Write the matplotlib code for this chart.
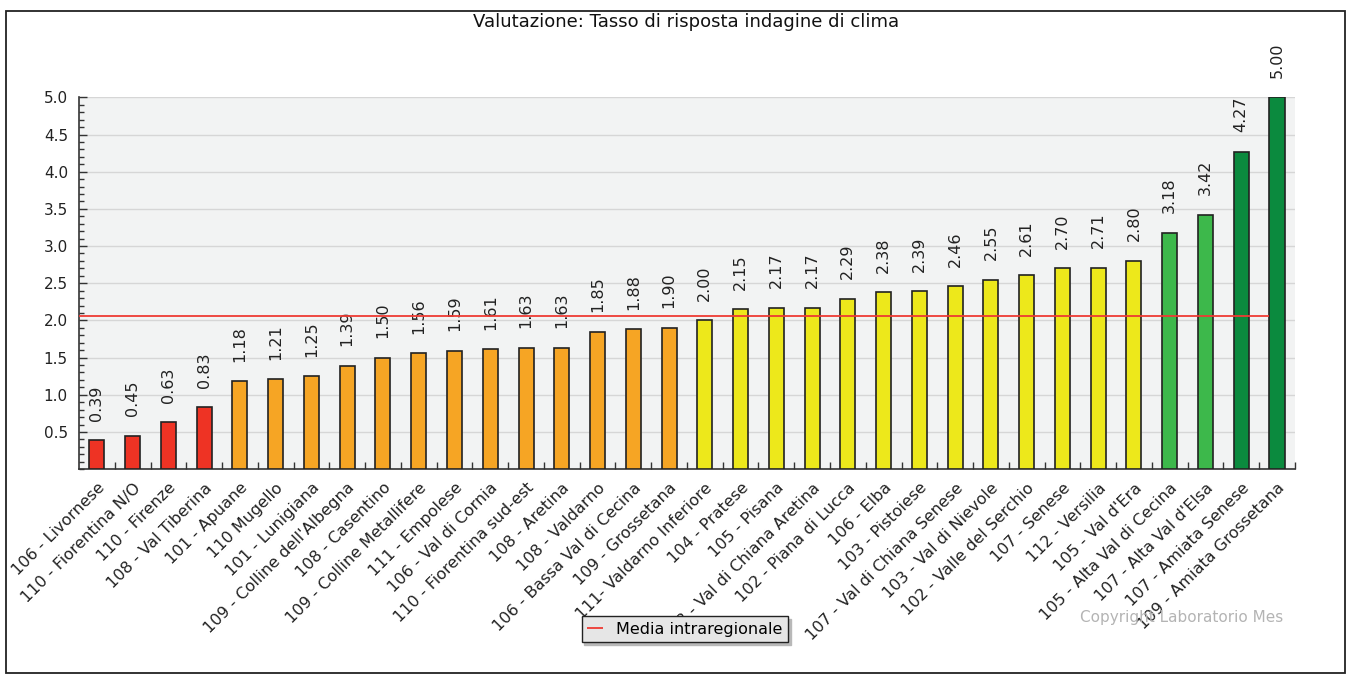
import numpy as np
import matplotlib
matplotlib.use("Agg")
import matplotlib.pyplot as plt
from matplotlib.patches import Rectangle
from matplotlib.ticker import MultipleLocator, FixedLocator

# Dati: tasso di risposta indagine di clima per zona
zone = [
    "106 - Livornese", "110 - Fiorentina N/O", "110 - Firenze", "108 - Val Tiberina",
    "101 - Apuane", "110 Mugello", "101 - Lunigiana", "109 - Colline dell'Albegna",
    "108 - Casentino", "109 - Colline Metallifere", "111 - Empolese", "106 - Val di Cornia",
    "110 - Fiorentina sud-est", "108 - Aretina", "108 - Valdarno", "106 - Bassa Val di Cecina",
    "109 - Grossetana", "111- Valdarno Inferiore", "104 - Pratese", "105 - Pisana",
    "108 - Val di Chiana Aretina", "102 - Piana di Lucca", "106 - Elba", "103 - Pistoiese",
    "107 - Val di Chiana Senese", "103 - Val di Nievole", "102 - Valle del Serchio",
    "107 - Senese", "112 - Versilia", "105 - Val d'Era", "105 - Alta Val di Cecina",
    "107 - Alta Val d'Elsa", "107 - Amiata Senese", "109 - Amiata Grossetana",
]
valori = [
    0.39, 0.45, 0.63, 0.83, 1.18, 1.21, 1.25, 1.39, 1.50, 1.56, 1.59, 1.61,
    1.63, 1.63, 1.85, 1.88, 1.90, 2.00, 2.15, 2.17, 2.17, 2.29, 2.38, 2.39,
    2.46, 2.55, 2.61, 2.70, 2.71, 2.80, 3.18, 3.42, 4.27, 5.00,
]
fasce = (["rosso"] * 4 + ["arancio"] * 13 + ["giallo"] * 13
         + ["verde chiaro"] * 2 + ["verde scuro"] * 2)
media = 2.06

colori_fasce = {
    "rosso": "#ee3324",
    "arancio": "#f6a524",
    "giallo": "#ede81b",
    "verde chiaro": "#3db84b",
    "verde scuro": "#0b8a3e",
}

plt.rcParams['font.family'] = ['DejaVu Sans']

fig = plt.figure(figsize=(13.48, 6.76), dpi=100)
ax = fig.add_axes([0.0586, 0.306, 0.902, 0.550])
ax.set_facecolor("#f2f3f3")

x = np.arange(len(zone))
colori = [colori_fasce[f] for f in fasce]
bars = ax.bar(x, valori, width=0.42, color=colori, edgecolor="#222222",
              linewidth=1.2, zorder=3)

for xi, v in zip(x, valori):
    ax.annotate(f"{v:.2f}", (xi, v), xytext=(0, 14), textcoords="offset points",
                rotation=90, ha="center", va="bottom", fontsize=11.5,
                color="#222222", annotation_clip=False)

ax.hlines(media, -0.5, len(zone) - 1.21, color="#ee3b33", linewidth=1.3,
          zorder=4, label="Media intraregionale")

ax.set_xlim(-0.5, len(zone) - 0.5)
ax.set_ylim(0, 5.0)
ax.set_yticks(np.arange(0.5, 5.01, 0.5))
ax.set_yticklabels([f"{t:.1f}" for t in np.arange(0.5, 5.01, 0.5)])
ax.yaxis.set_minor_locator(MultipleLocator(0.1))
ax.yaxis.grid(True, which="major", color="#d6d6d6", linewidth=1, zorder=0)
ax.set_axisbelow(True)

ax.set_xticks(x)
ax.set_xticklabels(zone, rotation=45, ha="right", rotation_mode="anchor",
                   fontsize=11.5, color="#222222")
ax.xaxis.set_minor_locator(FixedLocator(x + 0.5))
ax.tick_params(axis="x", which="major", length=0, pad=8)
ax.tick_params(axis="x", which="minor", direction="in", length=5, width=1,
               color="#333333")
ax.tick_params(axis="y", which="major", direction="in", length=6, width=1,
               labelsize=11, labelcolor="#222222", color="#333333", pad=8)
ax.tick_params(axis="y", which="minor", direction="in", length=3.5, width=1,
               color="#333333")

for s in ["top", "right"]:
    ax.spines[s].set_visible(False)
for s in ["left", "bottom"]:
    ax.spines[s].set_color("#333333")
    ax.spines[s].set_linewidth(1.2)

fig.text(0.509, 1 - 22 / 676, "Valutazione: Tasso di risposta indagine di clima",
         ha="center", va="center", fontsize=13, color="#111111")

fig.text(0.952, 0.087, "Copyright Laboratorio Mes", ha="right", va="center",
         fontsize=11, color="#b4b4b4")

leg = fig.legend(loc="center", bbox_to_anchor=(0.508, 0.069), fontsize=11.5,
                 frameon=True, fancybox=False,
                 shadow={"color": "#b8b8b8", "alpha": 1},
                 handlelength=1.0, borderpad=0.35)
leg.get_frame().set_facecolor("#e6e6e6")
leg.get_frame().set_edgecolor("#222222")
leg.get_frame().set_alpha(1)

fig.patches.append(Rectangle((6 / 1348, 3 / 676), 1339 / 1348, 662 / 676,
                             transform=fig.transFigure, fill=False,
                             edgecolor="#222222", linewidth=1.3))

fig.savefig("out.png", dpi=100)
